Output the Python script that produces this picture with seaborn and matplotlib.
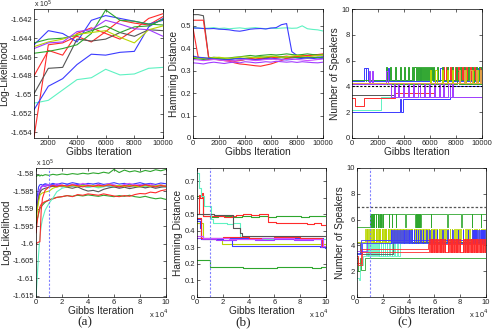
import numpy as np
import pandas as pd
import matplotlib
matplotlib.use('Agg')
import matplotlib.pyplot as plt
from matplotlib.ticker import FuncFormatter
import seaborn as sns

# ---------------- data ----------------
# top-left: log-likelihood, 10k iterations (units of 1e5)
tl_x = [1000, 2000, 3000, 4000, 5000, 6000, 7000, 8000, 9000, 10000]
tl = {
    'cyan':   [-1.6509, -1.6506, -1.6495, -1.6484, -1.6482, -1.6473, -1.6479, -1.6478, -1.6472, -1.6471],
    'red':    [-1.648, -1.6453, -1.6458, -1.6435, -1.6429, -1.6435, -1.6441, -1.6431, -1.6419, -1.6414],
    'red2':   [-1.6545, -1.6447, -1.6445, -1.6438, -1.6444, -1.6433, -1.6421, -1.6424, -1.6426, -1.6417],
    'blue':   [-1.6516, -1.6491, -1.6483, -1.6468, -1.6457, -1.6458, -1.6455, -1.6454, -1.6428, -1.6419],
    'blue2':  [-1.6447, -1.6432, -1.6435, -1.6444, -1.6421, -1.6416, -1.6419, -1.6422, -1.6425, -1.6421],
    'gray':   [-1.6499, -1.6472, -1.6471, -1.6441, -1.6443, -1.6441, -1.6434, -1.6438, -1.6431, -1.6432],
    'green':  [-1.6456, -1.6454, -1.6451, -1.6447, -1.6435, -1.6410, -1.6421, -1.6422, -1.6425, -1.6426],
    'green2': [-1.6445, -1.6441, -1.6440, -1.6437, -1.6432, -1.6427, -1.6434, -1.6428, -1.6427, -1.6420],
    'lime':   [-1.6449, -1.6444, -1.6441, -1.6436, -1.6434, -1.6432, -1.6439, -1.6445, -1.6431, -1.6427],
    'purple': [-1.6451, -1.6445, -1.6444, -1.6433, -1.6431, -1.6421, -1.6425, -1.6430, -1.6431, -1.6438],
}

# top-middle: hamming distance, 10k iterations
tm_x = [0, 400, 800, 1200, 1600, 2000, 2400, 2800, 3200, 3600, 4000, 4400, 4800, 5200,
        5600, 6000, 6400, 6800, 7200, 7600, 8000, 8400, 8800, 9200, 9600, 10000]
tm = {
    'cyan':    [0.493, 0.49, 0.488, 0.49, 0.492, 0.488, 0.49, 0.487, 0.489, 0.491, 0.488, 0.49, 0.492, 0.489, 0.487, 0.49, 0.488, 0.49, 0.491, 0.489, 0.49, 0.5, 0.487, 0.484, 0.482, 0.477],
    'blue':    [0.49, 0.49, 0.488, 0.487, 0.488, 0.485, 0.484, 0.482, 0.478, 0.476, 0.48, 0.485, 0.487, 0.488, 0.486, 0.49, 0.492, 0.505, 0.51, 0.385, 0.368, 0.362, 0.36, 0.358, 0.36, 0.362],
    'gray':    [0.55, 0.55, 0.545, 0.36, 0.355, 0.352, 0.35, 0.348, 0.345, 0.347, 0.35, 0.352, 0.35, 0.353, 0.355, 0.352, 0.356, 0.358, 0.355, 0.357, 0.36, 0.358, 0.356, 0.358, 0.36, 0.357],
    'red':     [0.525, 0.525, 0.525, 0.36, 0.355, 0.35, 0.348, 0.345, 0.342, 0.345, 0.35, 0.355, 0.352, 0.355, 0.358, 0.36, 0.358, 0.362, 0.365, 0.362, 0.365, 0.368, 0.365, 0.37, 0.372, 0.37],
    'red2':    [0.49, 0.36, 0.355, 0.35, 0.352, 0.348, 0.345, 0.342, 0.335, 0.33, 0.328, 0.325, 0.322, 0.32, 0.325, 0.33, 0.338, 0.345, 0.355, 0.36, 0.362, 0.365, 0.368, 0.37, 0.372, 0.375],
    'purple':  [0.335, 0.333, 0.33, 0.335, 0.338, 0.335, 0.332, 0.336, 0.338, 0.335, 0.34, 0.338, 0.335, 0.337, 0.34, 0.338, 0.342, 0.34, 0.338, 0.34, 0.337, 0.34, 0.338, 0.336, 0.335, 0.338],
    'green':   [0.36, 0.358, 0.355, 0.356, 0.36, 0.358, 0.355, 0.357, 0.36, 0.362, 0.365, 0.368, 0.365, 0.368, 0.37, 0.372, 0.37, 0.372, 0.375, 0.372, 0.37, 0.372, 0.375, 0.372, 0.37, 0.372],
    'green2':  [0.355, 0.352, 0.35, 0.352, 0.355, 0.353, 0.35, 0.352, 0.355, 0.352, 0.355, 0.358, 0.36, 0.362, 0.36, 0.363, 0.365, 0.362, 0.36, 0.362, 0.358, 0.36, 0.362, 0.36, 0.358, 0.36],
    'lime':    [0.36, 0.358, 0.356, 0.355, 0.358, 0.36, 0.357, 0.355, 0.358, 0.36, 0.362, 0.36, 0.358, 0.36, 0.362, 0.365, 0.363, 0.36, 0.362, 0.365, 0.368, 0.365, 0.362, 0.365, 0.368, 0.37],
    'blue2':   [0.365, 0.36, 0.358, 0.355, 0.352, 0.35, 0.348, 0.35, 0.352, 0.355, 0.352, 0.35, 0.348, 0.35, 0.352, 0.355, 0.352, 0.35, 0.348, 0.35, 0.352, 0.355, 0.358, 0.355, 0.352, 0.355],
    'magenta': [0.35, 0.348, 0.345, 0.347, 0.35, 0.348, 0.345, 0.343, 0.345, 0.348, 0.35, 0.348, 0.345, 0.347, 0.35, 0.352, 0.35, 0.348, 0.35, 0.352, 0.35, 0.348, 0.345, 0.347, 0.35, 0.352],
}

# top-right: number of speakers, step levels (change points, levels, spike starts, spike direction)
tr_truth = 4
tr = {
    'blue':   ([0, 3700, 3760, 3900, 7500], [2.0, 3.0, 2.0, 3.0, 4.0], [], 1),
    'blue2':  ([0], [4.4], [950, 1100, 2600, 2750, 5200, 6100, 6800, 7300, 8000, 8600, 9200, 9700], 1),
    'cyan':   ([0, 2200], [2.2, 3.2], [], 1),
    'red':    ([0, 200, 950, 3300, 6400], [3.1, 2.5, 3.1, 3.5, 4.5],
               [7000, 7250, 7500, 7700, 7900, 8150, 8350, 8550, 8750, 8950, 9150, 9350, 9550, 9750, 9900], 1),
    'gray':   ([0, 3200], [3.3, 4.3], [], 1),
    'green':  ([0], [4.5], [2600, 2900, 3300, 3700, 4000, 4300, 4600, 4800, 5000, 5150, 5300, 5450, 5600,
                            5750, 5900, 6050, 6200, 6500, 6900, 7300, 7700, 8000, 8300, 8600, 8900, 9200, 9500, 9800], 1),
    'green2': ([0], [4.2], [8100, 8700, 9300], 1),
    'purple': ([0, 3000], [4.2, 3.2], [1300, 1500, 2650, 3200, 3500, 3900, 4300, 4700, 5100, 5500, 5900,
                                       6300, 6700, 7000, 7400, 7700], 1),
    'lime':   ([0], [4.3], [6000, 6400, 6900, 7300, 7700, 8200, 8700, 9200, 9600], 1),
    'orange': ([0], [4.25], [8200, 8600, 9100, 9500, 9850], 1),
}

# bottom-left: log-likelihood, 100k iterations (x in 1e4, y in 1e5)
bl_x = [0, 0.1, 0.2, 0.3, 0.4, 0.5, 0.7, 1.0, 1.3, 1.6, 2.0, 2.4, 2.8, 3.2, 3.6, 4.0,
        4.4, 4.8, 5.2, 5.6, 6.0, 6.4, 6.8, 7.2, 7.6, 8.0, 8.4, 8.8, 9.2, 9.6, 10.0]
bl = {
    'green':   [-1.5808, -1.5806, -1.5805, -1.5807, -1.5804, -1.5806, -1.5803, -1.5805, -1.5802, -1.5804, -1.5801, -1.5803, -1.58, -1.5802, -1.5799, -1.5801, -1.5798, -1.58, -1.5796, -1.5799, -1.5788, -1.5797, -1.579, -1.5795, -1.5792, -1.5796, -1.5791, -1.5794, -1.5789, -1.5792, -1.5788],
    'green2':  [-1.595, -1.593, -1.5915, -1.590, -1.5895, -1.589, -1.5882, -1.5875, -1.5872, -1.5868, -1.5866, -1.5863, -1.5865, -1.5862, -1.5864, -1.5861, -1.5863, -1.5865, -1.5862, -1.5864, -1.5866, -1.5863, -1.5865, -1.5862, -1.5866, -1.5868, -1.5865, -1.5869, -1.5872, -1.587, -1.5874],
    'red2':    [-1.597, -1.5935, -1.591, -1.5895, -1.5888, -1.5884, -1.588, -1.5876, -1.5872, -1.5868, -1.5866, -1.5863, -1.5866, -1.586, -1.5862, -1.5858, -1.586, -1.5862, -1.5858, -1.5861, -1.5864, -1.5866, -1.5863, -1.5865, -1.586, -1.5857, -1.5858, -1.5853, -1.5855, -1.5849, -1.5846],
    'blue':    [-1.5895, -1.5865, -1.5838, -1.5832, -1.5831, -1.5833, -1.5829, -1.5832, -1.5828, -1.5831, -1.5827, -1.583, -1.5826, -1.5829, -1.5832, -1.5828, -1.583, -1.5827, -1.5831, -1.5829, -1.5826, -1.583, -1.5828, -1.5832, -1.5829, -1.5826, -1.583, -1.5828, -1.5831, -1.5827, -1.5829],
    'blue2':   [-1.5905, -1.5888, -1.587, -1.5848, -1.5838, -1.5835, -1.5832, -1.5834, -1.583, -1.5833, -1.5836, -1.5832, -1.5835, -1.5831, -1.5834, -1.5837, -1.5833, -1.5836, -1.5832, -1.5835, -1.5838, -1.5834, -1.5836, -1.5833, -1.5837, -1.5834, -1.5831, -1.5835, -1.5833, -1.5836, -1.5834],
    'magenta': [-1.592, -1.589, -1.5865, -1.585, -1.584, -1.5836, -1.5834, -1.5831, -1.5835, -1.5829, -1.5833, -1.5836, -1.583, -1.5834, -1.5828, -1.5832, -1.5835, -1.5831, -1.5834, -1.5829, -1.5832, -1.5836, -1.5831, -1.5828, -1.5833, -1.5831, -1.5835, -1.583, -1.5834, -1.5832, -1.5835],
    'purple':  [-1.591, -1.5885, -1.586, -1.5845, -1.5838, -1.5835, -1.5837, -1.5833, -1.5836, -1.5834, -1.5838, -1.5835, -1.5837, -1.5833, -1.5836, -1.5839, -1.5835, -1.5838, -1.5834, -1.5837, -1.5835, -1.5839, -1.5836, -1.5838, -1.5834, -1.5837, -1.5839, -1.5836, -1.5838, -1.5835, -1.5838],
    'cyan':    [-1.615, -1.6095, -1.603, -1.598, -1.595, -1.593, -1.5905, -1.5885, -1.587, -1.5852, -1.5842, -1.5838, -1.5835, -1.5839, -1.5836, -1.584, -1.5837, -1.5841, -1.5838, -1.5835, -1.5839, -1.5836, -1.5834, -1.5838, -1.5836, -1.5839, -1.5837, -1.5834, -1.5838, -1.5836, -1.5839],
    'gray':    [-1.5925, -1.5895, -1.587, -1.5855, -1.5848, -1.5845, -1.5842, -1.5839, -1.5836, -1.5838, -1.5835, -1.5839, -1.5842, -1.5838, -1.5845, -1.585, -1.5848, -1.5852, -1.5845, -1.5841, -1.5838, -1.5842, -1.5839, -1.5843, -1.584, -1.5837, -1.5841, -1.5838, -1.5842, -1.5839, -1.5837],
    'lime':    [-1.5935, -1.5905, -1.588, -1.5862, -1.5858, -1.5855, -1.5853, -1.585, -1.5842, -1.5838, -1.5835, -1.5838, -1.5834, -1.5837, -1.5833, -1.5836, -1.5834, -1.5838, -1.5835, -1.5832, -1.5836, -1.5834, -1.5837, -1.5833, -1.5836, -1.5838, -1.5834, -1.5837, -1.5835, -1.5833, -1.5836],
    'red':     [-1.6, -1.5998, -1.5996, -1.5995, -1.5905, -1.587, -1.5848, -1.5838, -1.5834, -1.5837, -1.5833, -1.5836, -1.5832, -1.5835, -1.5838, -1.5834, -1.5837, -1.5833, -1.5836, -1.5832, -1.5835, -1.5838, -1.5834, -1.5837, -1.5833, -1.5836, -1.5832, -1.5835, -1.5838, -1.5834, -1.5837],
}

# bottom-middle: hamming distance, stepwise (change points in 1e4, levels)
bm = {
    'green':   ([0, 0.48, 1.0, 1.6, 2.2, 2.9, 3.5, 4.2, 4.8, 5.5, 6.1, 6.8, 7.4, 8.1, 8.7, 9.4],
                [0.61, 0.49, 0.487, 0.492, 0.488, 0.485, 0.49, 0.487, 0.491, 0.486, 0.49, 0.488, 0.492, 0.487, 0.49, 0.488]),
    'red':     ([0, 0.12, 0.25, 0.35, 0.5, 0.9, 1.5, 2.1, 2.7, 3.0, 3.6, 4.2, 4.8, 5.5, 6.1, 6.7, 7.3, 7.9, 8.5, 9.1, 9.6],
                [0.5, 0.615, 0.6, 0.63, 0.492, 0.488, 0.49, 0.486, 0.49, 0.498, 0.502, 0.497, 0.5, 0.455, 0.451, 0.447, 0.45, 0.445, 0.442, 0.445, 0.438]),
    'cyan':    ([0, 0.15, 0.3, 0.55, 1.1, 1.25, 1.7, 2.3, 2.8, 3.3, 5.0, 7.5],
                [0.75, 0.66, 0.61, 0.548, 0.47, 0.445, 0.448, 0.442, 0.45, 0.355, 0.352, 0.354]),
    'gray':    ([0, 0.6, 1.3, 2.0, 2.8, 3.3, 3.5, 4.5, 5.5, 6.5, 7.5, 8.5, 9.5],
                [0.505, 0.5, 0.498, 0.495, 0.415, 0.385, 0.372, 0.369, 0.371, 0.368, 0.37, 0.368, 0.37]),
    'green2':  ([0, 1.0, 1.8, 2.7, 3.6, 4.5, 5.3, 6.2, 7.1, 8.0, 8.9, 9.6],
                [0.225, 0.182, 0.179, 0.181, 0.178, 0.176, 0.178, 0.181, 0.179, 0.18, 0.178, 0.18]),
    'lime':    ([0, 0.45, 1.0, 1.9, 3, 4, 5, 6, 7, 8, 9],
                [0.45, 0.352, 0.35, 0.322, 0.32, 0.323, 0.321, 0.32, 0.322, 0.32, 0.321]),
    'blue':    ([0, 0.3, 1.2, 2.0, 2.7, 3.6, 4.8, 6.0, 7.2, 8.4, 9.5, 9.9],
                [0.47, 0.352, 0.35, 0.348, 0.31, 0.308, 0.31, 0.307, 0.309, 0.306, 0.304, 0.298]),
    'purple':  ([0, 0.4, 1.5, 3.0, 4.5, 6.0, 7.5, 9.0, 9.6],
                [0.36, 0.35, 0.348, 0.35, 0.347, 0.349, 0.347, 0.349, 0.3]),
    'blue2':   ([0, 0.2, 0.32, 1.5, 3.5, 5.5, 7.5, 9.8],
                [0.46, 0.42, 0.358, 0.356, 0.358, 0.355, 0.357, 0.305]),
    'red2':    ([0, 0.3, 2.0, 4.0, 6.0, 8.0, 9.7],
                [0.48, 0.36, 0.362, 0.359, 0.362, 0.36, 0.31]),
    'magenta': ([0, 0.5, 2.5, 5.0, 7.5, 9.8],
                [0.37, 0.355, 0.353, 0.355, 0.352, 0.31]),
}

# bottom-right: number of speakers (x in 1e4)
br_truth = 7
burn_in = 1.0   # x 10^4 iterations
br = {
    'green':  ([0, 0.1, 0.2, 0.3, 0.6], [3.0, 2.0, 3.0, 2.1, 3.0], [], 1),
    'lime':   ([0], [4.3], [0.62, 0.75, 0.86, 0.98, 1.1, 1.22, 1.31, 1.45, 1.56, 1.68, 1.77, 1.9, 2.02, 2.15, 2.24,
                            2.37, 2.5, 2.61, 2.73, 2.84, 2.97, 3.08, 3.2, 3.33, 3.42, 3.55, 3.68, 3.79, 3.9, 4.03,
                            4.15, 4.26, 4.38, 4.5, 4.61, 4.74, 4.85, 4.97, 5.1, 5.21, 5.33, 5.46, 5.58, 5.7, 5.83,
                            5.95, 6.08, 6.2, 6.34, 6.47, 6.6, 6.75, 6.9, 7.05, 7.2, 7.36, 7.52, 7.68, 7.85, 8.02,
                            8.2, 8.38, 8.55, 8.72, 8.9, 9.08, 9.26, 9.44, 9.62, 9.8, 9.95], 1),
    'green2': ([0, 1.0], [5.4, 6.4], [1.02, 1.06, 1.1, 1.14, 1.18, 1.22, 1.26, 1.3, 1.45, 1.6, 1.72, 1.8, 1.88,
                                      2.0, 2.45, 2.7, 3.0, 3.75, 4.5, 4.58, 4.66, 4.74, 4.82, 4.9, 5.7, 7.0, 8.1,
                                      8.9, 9.6], -1),
    'cyan':   ([0, 0.12, 0.2, 0.5, 3.3], [1.5, 1.3, 2.5, 3.2, 4.2],
               [0.7, 0.82, 0.95, 1.1, 1.25, 1.4, 1.55, 1.7, 1.85, 2.0, 2.15, 2.3, 2.5, 2.7, 2.9, 3.1], 1),
    'gray':   ([0, 0.2, 2.8], [4.2, 3.3, 4.3], [], 1),
    'purple': ([0, 0.8], [3.6, 4.4], [], 1),
    'blue2':  ([0, 0.3], [3.3, 4.45], [], 1),
    'red2':   ([0, 0.3, 5.5], [2.6, 3.7, 4.1], [], 1),
    'blue':   ([0, 0.4], [3.4, 4.2], [2.6, 2.75, 2.9, 3.05, 3.2, 3.35, 3.5, 3.62, 3.75, 3.88, 4.0, 4.12, 4.25,
                                      4.4, 4.55, 4.7, 4.9, 5.1, 5.35, 5.6, 5.9, 6.2, 6.6, 7.0, 7.4, 7.8, 8.2,
                                      8.6, 8.95, 9.0, 9.05, 9.1, 9.15, 9.2, 9.25, 9.3, 9.35, 9.4, 9.45, 9.5,
                                      9.55, 9.6, 9.65, 9.7, 9.75, 9.8, 9.85], 1),
    'red':    ([0, 0.1, 0.4], [3.2, 2.5, 3.5], [5.6, 5.7, 5.8, 5.9, 6.0, 6.1, 6.2, 6.3, 6.4, 6.5, 6.6, 6.7, 6.8,
                                                7.05, 7.15, 7.25, 7.35, 7.45, 7.55, 7.65, 7.75, 7.85, 7.95, 8.2,
                                                8.3, 8.4, 8.5, 8.6, 8.7, 8.8, 8.9, 9.0, 9.1, 9.2, 9.3, 9.4, 9.5,
                                                9.6, 9.7, 9.8, 9.9], 1),
}

col = {'red': '#ff2b2b', 'blue': '#3b3bff', 'green': '#2ea62e', 'cyan': '#5ef2c2', 'gray': '#555555',
       'lime': '#b9d600', 'purple': '#a23cff', 'magenta': '#d050ff', 'orange': '#e6a34a'}


def palette(names):
    return {n: col[n.rstrip('2')] for n in names}


def grid_df(x, series):
    return pd.concat([pd.DataFrame({'x': x, 'y': ys, 'run': n}) for n, ys in series.items()], ignore_index=True)


def step_df(series, xmax):
    frames = []
    for n, (bx, by) in series.items():
        frames.append(pd.DataFrame({'x': list(bx) + [xmax], 'y': list(by) + [by[-1]], 'run': n}))
    return pd.concat(frames, ignore_index=True)


def spike_df(series, xmax, dur):
    frames = []
    for n, (bx, by, spikes, off) in series.items():
        pts = list(zip(bx, by))
        for s in spikes:
            i = np.searchsorted(bx, s, side='right') - 1
            pts.append((s, by[i] + off))
            j = np.searchsorted(bx, s + dur, side='right') - 1
            pts.append((s + dur, by[j]))
        pts.append((xmax, by[-1]))
        pts.sort()
        frames.append(pd.DataFrame({'x': [p[0] for p in pts], 'y': [p[1] for p in pts], 'run': n}))
    return pd.concat(frames, ignore_index=True)


def draw(ax, df, names, steps=False, lw=0.8):
    kw = {'drawstyle': 'steps-post'} if steps else {}
    sns.lineplot(data=df, x='x', y='y', hue='run', hue_order=list(names), palette=palette(names),
                 estimator=None, sort=False, legend=False, lw=lw, ax=ax, **kw)


gfmt = FuncFormatter(lambda v, p: '%g' % v)


def style(ax, xlim, ylim, xticks, yticks, ylabel):
    ax.set_xlim(xlim)
    ax.set_ylim(ylim)
    ax.set_xticks(xticks)
    ax.set_yticks(yticks)
    ax.xaxis.set_major_formatter(gfmt)
    ax.yaxis.set_major_formatter(gfmt)
    ax.tick_params(direction='in', top=True, right=True, length=2.5, width=0.5, labelsize=5.5, pad=1.5)
    ax.set_xlabel('Gibbs Iteration', fontsize=7.3, labelpad=0)
    ax.set_ylabel(ylabel, fontsize=7.3, labelpad=1)
    for s in ax.spines.values():
        s.set_linewidth(0.5)
        s.set_color('black')


sns.set_style('ticks')
plt.rcParams['font.family'] = ['Liberation Sans', 'DejaVu Sans']

fig = plt.figure(figsize=(4.92, 3.29), dpi=100)
W, H = 492.0, 329.0
ax_tl = fig.add_axes([34 / W, 1 - 138 / H, 129 / W, 129 / H])
ax_tm = fig.add_axes([193 / W, 1 - 138 / H, 130 / W, 129 / H])
ax_tr = fig.add_axes([352 / W, 1 - 138 / H, 130 / W, 129 / H])
ax_bl = fig.add_axes([36 / W, 1 - 297 / H, 130 / W, 129 / H])
ax_bm = fig.add_axes([197 / W, 1 - 297 / H, 129 / W, 129 / H])
ax_br = fig.add_axes([357 / W, 1 - 297 / H, 129 / W, 129 / H])

# top row
draw(ax_tl, grid_df(tl_x, tl), tl.keys())
style(ax_tl, (1000, 10000), (-1.6546, -1.6409), [2000, 4000, 6000, 8000, 10000],
      [-1.654, -1.652, -1.65, -1.648, -1.646, -1.644, -1.642], 'Log-Likelihood')
ax_tl.text(0, 1.008, r'x 10$^{5}$', transform=ax_tl.transAxes, fontsize=5, va='baseline', ha='left')

draw(ax_tm, grid_df(tm_x, tm), tm.keys())
style(ax_tm, (0, 10000), (0, 0.575), [0, 2000, 4000, 6000, 8000, 10000],
      [0, 0.1, 0.2, 0.3, 0.4, 0.5], 'Hamming Distance')

draw(ax_tr, spike_df(tr, 10000, 100), tr.keys(), steps=True, lw=0.7)
ax_tr.axhline(tr_truth, color='black', ls='--', lw=0.8, dashes=(2, 1.5))
style(ax_tr, (0, 10000), (0, 10), [0, 2000, 4000, 6000, 8000, 10000],
      [0, 2, 4, 6, 8, 10], 'Number of Speakers')

# bottom row
draw(ax_bl, grid_df(bl_x, bl), bl.keys())
ax_bl.axvline(burn_in, color='#8080ff', ls='--', lw=0.8, dashes=(2, 1.5))
style(ax_bl, (0, 10), (-1.6153, -1.5784), [0, 2, 4, 6, 8, 10],
      [-1.615, -1.61, -1.605, -1.6, -1.595, -1.59, -1.585, -1.58], 'Log-Likelihood')
ax_bl.text(0, 1.008, r'x 10$^{5}$', transform=ax_bl.transAxes, fontsize=5, va='baseline', ha='left')

draw(ax_bm, step_df(bm, 10), bm.keys(), steps=True)
ax_bm.axvline(burn_in, color='#8080ff', ls='--', lw=0.8, dashes=(2, 1.5))
style(ax_bm, (0, 10), (0, 0.781), [0, 2, 4, 6, 8, 10],
      [0, 0.1, 0.2, 0.3, 0.4, 0.5, 0.6, 0.7], 'Hamming Distance')

draw(ax_br, spike_df(br, 10, 0.04), br.keys(), steps=True, lw=0.6)
ax_br.axhline(br_truth, color='#555555', ls='--', lw=0.9, dashes=(2, 1.5))
ax_br.axvline(burn_in, color='#8080ff', ls='--', lw=0.8, dashes=(2, 1.5))
style(ax_br, (0, 10), (0, 10), [0, 2, 4, 6, 8, 10], [0, 2, 4, 6, 8, 10], 'Number of Speakers')

for ax in (ax_bl, ax_bm, ax_br):
    ax.text(0.87, -0.13, r'x 10$^{4}$', transform=ax.transAxes, fontsize=5.5, va='center', ha='left')

for xp, lab in ((85, '(a)'), (243, '(b)'), (405, '(c)')):
    fig.text(xp / W, 1 - 322 / H, lab, ha='center', va='center', fontsize=9.5,
             family=['Liberation Serif', 'DejaVu Serif'])

fig.savefig('out.png', dpi=100)
